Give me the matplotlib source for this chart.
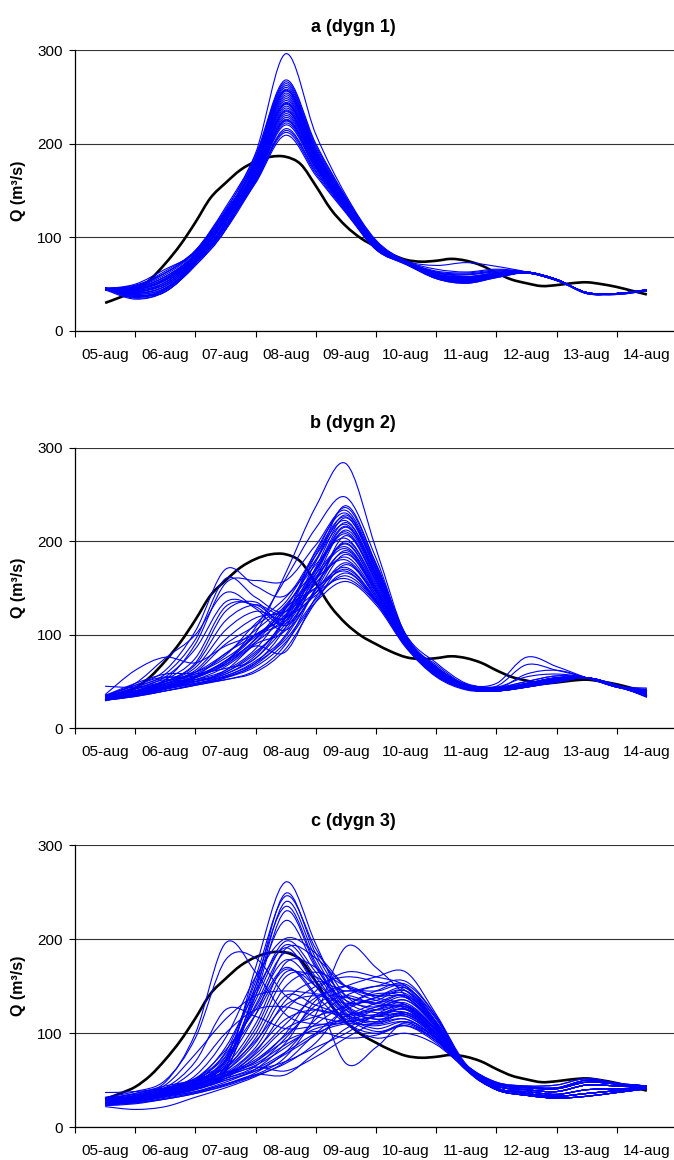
import numpy as np
import matplotlib.pyplot as plt
from matplotlib.path import Path
from matplotlib.patches import PathPatch

plt.rcParams['font.family'] = ['Liberation Sans', 'DejaVu Sans']

dates = ["05-aug", "06-aug", "07-aug", "08-aug", "09-aug",
         "10-aug", "11-aug", "12-aug", "13-aug", "14-aug"]

# observerad avrinning, var 6:e timme (m3/s)
observed = [30, 36, 43, 55, 72, 92, 116, 142, 158, 172, 181, 186, 186,
            178, 155, 130, 112, 99, 90, 82, 76, 74, 75, 77, 75, 70, 62,
            55, 51, 48, 49, 51, 52, 50, 47, 43, 39]

# ensembleprognoser, var 12:e timme
ens_dygn1 = [
    [45, 47, 62, 86, 132, 190, 296, 210, 145, 97, 75, 66, 63, 66, 63, 55, 41, 40, 43],
    [45, 50, 66, 84, 128, 188, 268, 200, 143, 96, 75, 70, 73, 69, 63, 54, 41, 40, 44],
    [44, 44, 55, 80, 124, 186, 266, 198, 142, 95, 74, 63, 58, 61, 63, 55, 40, 39, 43],
    [46, 40, 48, 76, 120, 184, 264, 196, 141, 94, 74, 60, 55, 60, 63, 55, 41, 40, 44],
    [45, 36, 44, 74, 116, 182, 262, 194, 140, 94, 73, 58, 53, 59, 62, 54, 41, 40, 43],
    [44, 48, 64, 86, 130, 183, 260, 193, 140, 93, 74, 62, 60, 64, 63, 55, 40, 40, 44],
    [45, 42, 50, 78, 122, 180, 258, 192, 139, 93, 73, 59, 54, 60, 63, 55, 41, 40, 43],
    [45, 41, 52, 80, 124, 181, 257, 190, 138, 92, 73, 58, 55, 60, 63, 55, 41, 40, 43],
    [46, 38, 42, 72, 112, 178, 256, 191, 139, 93, 73, 57, 52, 58, 62, 54, 41, 39, 43],
    [45, 46, 58, 82, 126, 179, 254, 190, 138, 92, 74, 61, 58, 62, 63, 55, 41, 40, 44],
    [44, 34, 42, 70, 108, 176, 252, 189, 138, 92, 73, 56, 51, 57, 62, 54, 41, 40, 43],
    [45, 44, 54, 80, 124, 177, 250, 188, 137, 92, 73, 60, 56, 61, 63, 55, 40, 40, 43],
    [45, 49, 62, 85, 128, 176, 248, 187, 137, 91, 74, 64, 62, 65, 63, 55, 41, 40, 44],
    [46, 41, 48, 76, 118, 174, 246, 186, 136, 91, 73, 58, 54, 59, 62, 54, 41, 40, 43],
    [45, 37, 44, 72, 112, 172, 244, 185, 136, 91, 72, 57, 52, 58, 62, 55, 41, 40, 43],
    [44, 39, 46, 74, 116, 172, 243, 184, 135, 91, 72, 57, 53, 59, 62, 54, 41, 40, 43],
    [44, 45, 56, 81, 124, 173, 242, 184, 135, 90, 73, 60, 57, 61, 63, 55, 40, 40, 44],
    [45, 43, 52, 78, 120, 171, 240, 183, 135, 90, 73, 59, 55, 60, 63, 55, 41, 40, 43],
    [45, 47, 60, 84, 126, 170, 238, 182, 134, 90, 73, 62, 60, 63, 63, 55, 41, 40, 44],
    [46, 39, 46, 74, 114, 168, 236, 181, 134, 90, 72, 57, 53, 58, 62, 54, 41, 40, 43],
    [46, 44, 56, 82, 122, 168, 235, 180, 133, 90, 73, 60, 57, 61, 63, 55, 41, 40, 44],
    [45, 35, 42, 70, 108, 166, 234, 180, 133, 89, 72, 56, 51, 57, 62, 54, 41, 39, 43],
    [44, 46, 58, 82, 124, 167, 232, 179, 133, 89, 73, 61, 58, 62, 63, 55, 41, 40, 44],
    [45, 42, 50, 77, 118, 165, 230, 178, 132, 89, 72, 58, 54, 59, 62, 55, 41, 40, 43],
    [45, 44, 54, 79, 120, 164, 228, 177, 132, 89, 72, 59, 56, 60, 63, 55, 40, 40, 43],
    [46, 48, 62, 85, 126, 165, 226, 176, 131, 88, 73, 63, 61, 64, 63, 55, 41, 40, 44],
    [45, 37, 45, 73, 112, 163, 225, 175, 131, 88, 72, 57, 52, 58, 62, 54, 41, 40, 43],
    [45, 38, 44, 72, 110, 162, 224, 175, 131, 88, 72, 57, 52, 58, 62, 54, 41, 40, 43],
    [44, 43, 52, 78, 118, 162, 222, 174, 130, 88, 72, 58, 55, 60, 62, 55, 41, 40, 43],
    [45, 46, 58, 82, 122, 162, 220, 173, 130, 88, 72, 60, 57, 61, 63, 55, 41, 40, 44],
    [45, 40, 48, 75, 114, 160, 216, 171, 129, 88, 72, 57, 53, 59, 62, 54, 41, 40, 43],
    [46, 36, 44, 72, 108, 159, 214, 170, 128, 87, 71, 56, 52, 58, 62, 54, 41, 40, 43],
    [45, 45, 56, 80, 118, 160, 212, 168, 127, 87, 72, 59, 56, 60, 63, 55, 41, 40, 44],
    [44, 42, 50, 76, 112, 158, 209, 166, 126, 87, 71, 57, 54, 59, 62, 54, 41, 40, 43],
]

ens_dygn2 = [
    [33, 38, 46, 56, 72, 102, 166, 237, 283, 192, 98, 66, 45, 42, 46, 52, 54, 46, 36],
    [32, 36, 44, 54, 70, 108, 160, 214, 247, 182, 96, 68, 46, 42, 45, 51, 54, 45, 40],
    [35, 46, 62, 104, 170, 152, 142, 188, 236, 176, 100, 70, 48, 44, 50, 56, 54, 46, 38],
    [34, 42, 52, 90, 155, 158, 158, 196, 233, 174, 99, 66, 47, 43, 48, 54, 54, 44, 42],
    [31, 36, 42, 50, 58, 78, 120, 190, 230, 172, 97, 62, 44, 41, 46, 50, 54, 45, 34],
    [33, 40, 52, 75, 130, 132, 118, 178, 228, 170, 96, 63, 45, 42, 58, 62, 54, 44, 36],
    [32, 40, 50, 58, 64, 75, 118, 185, 226, 170, 96, 62, 45, 42, 47, 53, 54, 45, 38],
    [30, 35, 40, 46, 54, 70, 108, 172, 225, 168, 95, 59, 44, 40, 44, 49, 54, 46, 35],
    [32, 38, 48, 60, 90, 110, 135, 185, 222, 166, 95, 64, 45, 43, 50, 56, 54, 45, 43],
    [34, 44, 58, 95, 160, 140, 125, 170, 220, 165, 97, 65, 47, 48, 76, 66, 54, 44, 37],
    [31, 37, 45, 52, 62, 85, 128, 180, 218, 164, 94, 60, 44, 41, 45, 50, 54, 46, 35],
    [33, 44, 54, 56, 68, 96, 132, 170, 216, 162, 95, 62, 45, 42, 46, 51, 54, 46, 36],
    [33, 39, 50, 70, 125, 135, 112, 165, 215, 162, 94, 61, 45, 42, 47, 53, 54, 45, 39],
    [32, 36, 43, 50, 56, 72, 100, 160, 212, 160, 93, 59, 43, 40, 44, 49, 54, 46, 34],
    [30, 35, 42, 55, 80, 100, 125, 170, 210, 158, 93, 60, 44, 42, 46, 52, 54, 45, 36],
    [34, 46, 55, 52, 60, 82, 112, 168, 208, 158, 93, 60, 44, 41, 46, 52, 54, 46, 35],
    [35, 48, 75, 100, 145, 128, 105, 150, 206, 156, 94, 64, 46, 45, 68, 62, 54, 44, 41],
    [32, 37, 44, 52, 66, 92, 130, 175, 203, 154, 92, 59, 44, 41, 45, 51, 54, 45, 35],
    [31, 36, 42, 48, 52, 62, 90, 150, 200, 152, 92, 58, 43, 40, 44, 50, 54, 46, 33],
    [31, 42, 52, 50, 62, 90, 105, 158, 198, 150, 92, 59, 44, 42, 48, 54, 54, 45, 40],
    [33, 40, 50, 65, 105, 125, 118, 160, 197, 150, 92, 60, 45, 42, 48, 54, 54, 45, 38],
    [32, 38, 47, 58, 75, 98, 122, 165, 194, 148, 91, 59, 44, 41, 46, 52, 54, 45, 35],
    [30, 38, 48, 54, 72, 100, 120, 162, 192, 148, 91, 58, 44, 41, 45, 50, 54, 45, 34],
    [30, 35, 42, 48, 55, 68, 98, 148, 190, 146, 91, 58, 43, 40, 45, 50, 54, 46, 34],
    [36, 62, 76, 70, 88, 100, 115, 155, 188, 146, 91, 58, 44, 42, 46, 52, 54, 46, 35],
    [34, 42, 55, 85, 135, 130, 110, 145, 186, 145, 92, 61, 46, 44, 55, 58, 54, 44, 40],
    [31, 36, 44, 50, 60, 80, 115, 155, 183, 143, 90, 58, 43, 41, 45, 51, 54, 45, 35],
    [33, 38, 46, 56, 70, 95, 128, 160, 180, 142, 90, 59, 44, 42, 47, 53, 54, 45, 37],
    [32, 37, 45, 54, 68, 88, 82, 140, 177, 140, 89, 57, 43, 40, 44, 50, 54, 46, 34],
    [30, 34, 40, 46, 52, 60, 85, 135, 175, 140, 89, 57, 42, 40, 45, 51, 54, 45, 36],
    [33, 39, 48, 62, 95, 118, 125, 150, 172, 138, 90, 60, 45, 42, 47, 53, 54, 45, 41],
    [32, 36, 44, 50, 58, 75, 108, 145, 170, 137, 88, 57, 43, 41, 46, 52, 54, 46, 35],
    [45, 44, 50, 60, 80, 105, 130, 150, 168, 136, 88, 57, 43, 41, 46, 52, 54, 45, 37],
    [31, 35, 42, 48, 56, 70, 95, 138, 166, 136, 88, 56, 42, 40, 45, 50, 54, 45, 34],
    [34, 40, 50, 68, 115, 132, 120, 142, 163, 135, 89, 58, 44, 42, 48, 54, 54, 44, 38],
    [32, 37, 45, 55, 72, 92, 118, 145, 160, 134, 87, 56, 42, 40, 45, 51, 54, 45, 35],
    [30, 34, 40, 47, 54, 66, 92, 135, 157, 132, 86, 55, 41, 40, 44, 50, 54, 46, 36],
    [35, 48, 58, 60, 78, 112, 140, 180, 238, 176, 98, 64, 46, 43, 48, 54, 54, 44, 39],
]

ens_dygn3 = [
    [27, 30, 36, 44, 62, 170, 261, 195, 130, 118, 120, 100, 66, 48, 44, 45, 52, 47, 44],
    [25, 28, 34, 42, 58, 150, 249, 185, 135, 122, 125, 98, 64, 44, 40, 38, 45, 44, 43],
    [28, 32, 40, 50, 72, 160, 246, 190, 140, 125, 128, 104, 65, 46, 42, 41, 48, 46, 44],
    [26, 29, 35, 45, 65, 145, 240, 180, 128, 115, 118, 96, 63, 42, 36, 33, 36, 39, 42],
    [30, 34, 42, 52, 80, 155, 235, 175, 125, 112, 122, 100, 62, 40, 34, 31, 33, 37, 41],
    [24, 27, 33, 42, 60, 140, 230, 172, 122, 110, 115, 94, 61, 41, 38, 35, 40, 41, 42],
    [27, 31, 38, 48, 75, 150, 220, 170, 130, 118, 126, 102, 66, 47, 43, 42, 50, 46, 44],
    [29, 33, 40, 55, 95, 160, 201, 185, 150, 135, 130, 104, 64, 44, 40, 38, 45, 44, 43],
    [26, 30, 36, 46, 70, 140, 198, 165, 120, 105, 112, 92, 63, 42, 36, 33, 36, 39, 42],
    [25, 28, 35, 44, 68, 135, 194, 160, 118, 102, 108, 90, 62, 40, 34, 31, 33, 37, 41],
    [28, 32, 39, 50, 85, 145, 191, 150, 112, 100, 110, 92, 65, 46, 42, 41, 48, 46, 44],
    [30, 35, 42, 52, 70, 120, 190, 180, 150, 145, 150, 112, 66, 47, 43, 42, 50, 46, 44],
    [27, 30, 37, 47, 72, 130, 186, 155, 125, 115, 118, 96, 61, 41, 38, 35, 40, 41, 42],
    [26, 29, 36, 48, 78, 128, 178, 150, 120, 112, 115, 95, 64, 44, 40, 38, 45, 44, 43],
    [29, 33, 40, 50, 66, 110, 175, 170, 140, 132, 140, 108, 62, 40, 34, 31, 33, 37, 41],
    [29, 33, 41, 52, 82, 125, 170, 140, 110, 95, 100, 88, 62, 40, 34, 31, 33, 37, 41],
    [28, 31, 38, 50, 75, 120, 168, 140, 68, 85, 112, 94, 63, 42, 36, 33, 36, 39, 42],
    [28, 31, 38, 46, 62, 105, 165, 150, 115, 110, 120, 96, 62, 40, 34, 31, 33, 37, 41],
    [28, 32, 39, 48, 64, 100, 160, 160, 135, 128, 135, 106, 63, 42, 36, 33, 36, 39, 42],
    [27, 31, 38, 46, 60, 95, 150, 165, 150, 140, 138, 108, 64, 44, 40, 38, 45, 44, 43],
    [27, 30, 37, 45, 60, 90, 140, 130, 120, 128, 138, 106, 63, 41, 38, 35, 40, 41, 42],
    [26, 29, 36, 44, 58, 85, 135, 155, 145, 150, 148, 112, 65, 46, 42, 41, 48, 46, 44],
    [29, 33, 40, 49, 63, 92, 130, 140, 132, 135, 145, 110, 64, 44, 40, 38, 45, 44, 43],
    [25, 28, 34, 42, 55, 80, 125, 150, 160, 155, 145, 110, 64, 44, 40, 38, 45, 44, 43],
    [30, 36, 48, 100, 196, 165, 120, 110, 112, 118, 120, 98, 66, 48, 44, 45, 52, 47, 44],
    [32, 38, 50, 95, 178, 180, 140, 125, 120, 125, 128, 100, 65, 46, 42, 41, 48, 46, 44],
    [28, 33, 42, 70, 125, 118, 105, 108, 115, 120, 122, 98, 64, 44, 40, 38, 45, 44, 43],
    [29, 34, 45, 78, 115, 140, 145, 142, 138, 132, 126, 100, 63, 42, 36, 33, 36, 39, 42],
    [27, 31, 40, 62, 100, 125, 128, 118, 112, 118, 125, 100, 61, 41, 38, 35, 40, 41, 42],
    [26, 29, 35, 43, 56, 82, 115, 125, 118, 125, 132, 104, 64, 42, 36, 33, 36, 39, 42],
    [25, 28, 34, 41, 54, 78, 110, 138, 150, 138, 130, 104, 63, 42, 36, 33, 36, 39, 42],
    [24, 27, 33, 40, 52, 75, 105, 118, 128, 138, 142, 110, 65, 46, 42, 41, 48, 46, 44],
    [26, 29, 34, 40, 50, 62, 90, 135, 150, 160, 165, 120, 67, 47, 43, 42, 50, 46, 44],
    [25, 28, 33, 38, 46, 56, 75, 120, 192, 170, 140, 110, 66, 46, 42, 41, 48, 46, 44],
    [28, 32, 38, 45, 55, 70, 100, 145, 165, 160, 150, 115, 65, 44, 40, 38, 45, 44, 43],
    [24, 26, 30, 36, 45, 58, 80, 115, 140, 150, 155, 118, 64, 42, 36, 33, 36, 39, 42],
    [27, 30, 36, 42, 52, 65, 95, 130, 145, 140, 145, 112, 63, 41, 38, 35, 40, 41, 42],
    [22, 19, 22, 32, 42, 54, 70, 100, 125, 138, 148, 116, 62, 40, 34, 31, 33, 37, 41],
    [29, 33, 40, 46, 55, 66, 85, 110, 130, 142, 138, 108, 65, 44, 40, 38, 45, 44, 43],
    [26, 29, 35, 41, 50, 60, 78, 98, 118, 132, 140, 110, 62, 40, 34, 31, 33, 37, 41],
    [31, 36, 44, 50, 58, 68, 88, 105, 112, 125, 135, 106, 64, 42, 36, 33, 36, 39, 42],
    [25, 27, 32, 38, 48, 60, 70, 85, 100, 120, 130, 104, 61, 41, 38, 35, 40, 41, 42],
    [27, 31, 37, 44, 54, 64, 60, 75, 95, 112, 122, 100, 63, 42, 36, 33, 36, 39, 42],
    [24, 26, 31, 37, 46, 56, 56, 80, 105, 118, 128, 102, 64, 44, 40, 38, 45, 44, 43],
    [28, 32, 38, 45, 56, 70, 92, 102, 95, 98, 108, 92, 62, 40, 34, 31, 33, 37, 41],
    [26, 30, 36, 42, 52, 62, 80, 100, 110, 108, 112, 94, 61, 41, 38, 35, 40, 41, 42],
    [37, 38, 42, 48, 58, 72, 98, 125, 140, 130, 128, 104, 66, 47, 43, 42, 50, 46, 44],
    [23, 25, 30, 36, 44, 55, 68, 90, 128, 145, 152, 118, 65, 46, 42, 41, 48, 46, 44],
]

panels = [("a (dygn 1)", ens_dygn1), ("b (dygn 2)", ens_dygn2), ("c (dygn 3)", ens_dygn3)]


def smooth_path(x, y):
    # mjuk kurva genom punkterna (kubiska Bezier-segment)
    p = np.column_stack([x, y]).astype(float)
    n = len(p)
    verts = [p[0]]
    codes = [Path.MOVETO]
    for i in range(n - 1):
        p0 = p[max(i - 1, 0)]
        p3 = p[min(i + 2, n - 1)]
        verts += [p[i] + (p[i + 1] - p0) / 6, p[i + 1] - (p3 - p[i]) / 6, p[i + 1]]
        codes += [Path.CURVE4] * 3
    return Path(verts, codes)


fig = plt.figure(figsize=(6.74, 11.6), dpi=100)

# axlarnas placering (vänster, botten, bredd, höjd) i figurkoordinater
rects = [
    [75 / 674, 829 / 1160, 602 / 674, 281 / 1160],
    [75 / 674, 431.7 / 1160, 602 / 674, 280.6 / 1160],
    [75 / 674, 32.7 / 1160, 602 / 674, 282 / 1160],
]
title_y = [27, 423, 822]

t_obs = np.arange(len(observed)) * 0.25

for (title, ens), rect, ty in zip(panels, rects, title_y):
    ax = fig.add_axes(rect)

    ax.add_patch(PathPatch(smooth_path(t_obs, observed), fill=False,
                           edgecolor="black", lw=1.9, zorder=2))
    for member in ens:
        t = np.arange(len(member)) * 0.5
        ax.add_patch(PathPatch(smooth_path(t, member), fill=False,
                               edgecolor="#0000ff", lw=0.8, zorder=3))

    ax.set_xlim(-0.5, 9.5)
    ax.set_ylim(0, 300)

    ax.set_xticks(range(len(dates)))
    ax.set_xticklabels(dates)
    ax.set_xticks(np.arange(-0.5, 10, 1), minor=True)
    ax.tick_params(axis="x", which="major", length=0, pad=12, labelsize=11)
    ax.tick_params(axis="x", which="minor", length=4, width=0.8, direction="out")

    ax.set_yticks([0, 100, 200, 300])
    ax.tick_params(axis="y", length=4, width=0.8, direction="out", pad=5, labelsize=11)

    ax.grid(axis="y", color="#333333", lw=0.8)
    ax.set_axisbelow(True)
    for side in ["top", "right"]:
        ax.spines[side].set_visible(False)
    for side in ["left", "bottom"]:
        ax.spines[side].set_linewidth(0.9)

    fig.text(353 / 674, 1 - ty / 1160, title, ha="center", va="center",
             fontsize=13, fontweight="bold")
    yc = rect[1] + rect[3] / 2
    fig.text(18 / 674, yc, "Q (m³/s)", rotation=90, ha="center", va="center",
             fontsize=11.5, fontweight="bold")

fig.savefig("out.png", dpi=100)
